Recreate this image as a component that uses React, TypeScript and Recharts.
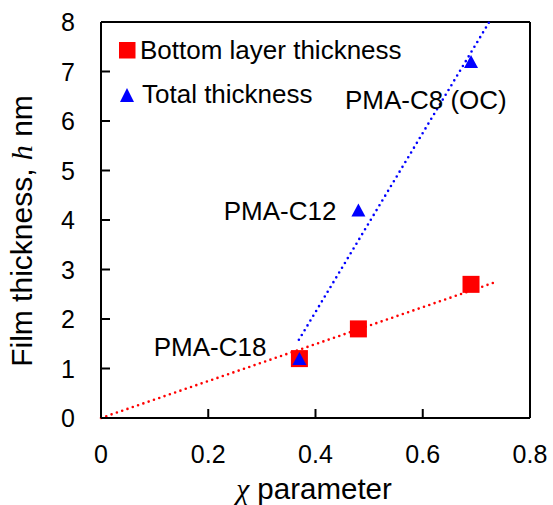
import React from 'react';
import { ScatterChart, Scatter, XAxis, YAxis, ReferenceLine, Legend } from 'recharts';

const chiValues = [0.37, 0.48, 0.69];
const bottomLayer = [1.2, 1.8, 2.7];
const totalThickness = [1.2, 4.2, 7.2];
const sampleNames = ['PMA-C18', 'PMA-C12', 'PMA-C8 (OC)'];
const bottomTrend = [{ x: 0, y: 0 }, { x: 0.737, y: 2.75 }];
const totalTrend = [{ x: 0.369, y: 1.58 }, { x: 0.724, y: 8 }];
const xTicks = [0, 0.2, 0.4, 0.6, 0.8];
const yTicks = [0, 1, 2, 3, 4, 5, 6, 7, 8];

const bottomData = chiValues.map((x, i) => ({ x, y: bottomLayer[i] }));
const totalData = chiValues.map((x, i) => ({ x, y: totalThickness[i], name: sampleNames[i] }));

const FONT = '"Liberation Sans", Arial, sans-serif';
const SERIF = '"Liberation Serif", "Times New Roman", serif';
const RED = '#FF0000';
const BLUE = '#0000FF';

const labelLayout = [
  { dx: -33, dy: -3, anchor: 'end' },
  { dx: -22, dy: 10, anchor: 'end' },
  { dx: -126, dy: 47, anchor: 'start' },
];

const YTick = (props: any) => {
  const { x, y, payload } = props;
  return (
    <g>
      <line x1={x} x2={x + 9} y1={y} y2={y} stroke="#000" strokeWidth={2} />
      <text x={x - 26} y={y + 9} textAnchor="end" fontFamily={FONT} fontSize={25} fill="#000">
        {String(payload.value)}
      </text>
    </g>
  );
};

const XTick = (props: any) => {
  const { x, y, payload } = props;
  return (
    <g>
      <line x1={x} x2={x} y1={y} y2={y - 9} stroke="#000" strokeWidth={2} />
      <text x={x} y={y + 45} textAnchor="middle" fontFamily={FONT} fontSize={25} fill="#000">
        {String(payload.value)}
      </text>
    </g>
  );
};

const Square = (props: any) => {
  const { cx, cy } = props;
  if (cx == null || cy == null) return null;
  return <rect x={cx - 8.5} y={cy - 8.5} width={17} height={17} fill={RED} />;
};

const Triangle = (props: any) => {
  const { cx, cy, index, payload } = props;
  if (cx == null || cy == null) return null;
  const lay = labelLayout[index] || labelLayout[0];
  return (
    <g>
      <polygon points={`${cx},${cy - 6.5} ${cx - 7},${cy + 6.5} ${cx + 7},${cy + 6.5}`} fill={BLUE} />
      <text x={cx + lay.dx} y={cy + lay.dy} textAnchor={lay.anchor as any} fontFamily={FONT} fontSize={26} fill="#000">
        {payload?.name}
      </text>
    </g>
  );
};

const LegendContent = () => (
  <svg width={300} height={90} style={{ overflow: 'visible' }}>
    <rect x={9} y={12} width={16.5} height={16.5} fill={RED} />
    <text x={30} y={29} fontFamily={FONT} fontSize={26} fill="#000">Bottom layer thickness</text>
    <polygon points="17,58 10,72 24,72" fill={BLUE} />
    <text x={32} y={73} fontFamily={FONT} fontSize={26} fill="#000">Total thickness</text>
  </svg>
);

export default function App() {
  return (
    <div style={{ position: 'absolute', left: 0, top: 0, background: '#fff' }}>
      <ScatterChart width={553} height={505} margin={{ top: 22, right: 23, bottom: 0, left: 0 }}>
        <XAxis
          type="number"
          dataKey="x"
          domain={[0, 0.8]}
          ticks={xTicks}
          interval={0}
          tickSize={0}
          tickMargin={0}
          tickLine={false}
          tick={<XTick />}
          height={87}
          axisLine={{ stroke: '#000', strokeWidth: 2 }}
          allowDataOverflow
          label={{
            content: () => (
              <text x={314} y={499} textAnchor="middle" fontFamily={FONT} fontSize={29.5} fill="#000">
                <tspan fontFamily={SERIF} fontStyle="italic">χ</tspan>
                <tspan> parameter</tspan>
              </text>
            ),
          }}
        />
        <YAxis
          type="number"
          dataKey="y"
          domain={[0, 8]}
          ticks={yTicks}
          interval={0}
          tickSize={0}
          tickMargin={0}
          tickLine={false}
          tick={<YTick />}
          width={101}
          axisLine={{ stroke: '#000', strokeWidth: 2 }}
          allowDataOverflow
          label={{
            content: () => (
              <text x={32} y={231} transform="rotate(-90 32 231)" textAnchor="middle" fontFamily={FONT} fontSize={30} fill="#000">
                <tspan>Film thickness, </tspan>
                <tspan fontFamily={SERIF} fontStyle="italic">h</tspan>
                <tspan> nm</tspan>
              </text>
            ),
          }}
        />
        <ReferenceLine y={8} stroke="#000" strokeWidth={2} />
        <ReferenceLine x={0.8} stroke="#000" strokeWidth={2} />
        <ReferenceLine
          segment={bottomTrend}
          stroke={RED}
          strokeWidth={2.6}
          strokeDasharray="0 5.6"
          strokeLinecap="round"
        />
        <ReferenceLine
          segment={totalTrend}
          stroke={BLUE}
          strokeWidth={2.6}
          strokeDasharray="0 5.6"
          strokeLinecap="round"
        />
        <Scatter name="Bottom layer thickness" data={bottomData} shape={<Square />} isAnimationActive={false} />
        <Scatter name="Total thickness" data={totalData} shape={<Triangle />} isAnimationActive={false} />
        <Legend
          layout="vertical"
          align="center"
          verticalAlign="middle"
          content={<LegendContent />}
          wrapperStyle={{ left: 110, top: 30, width: 300, height: 90 }}
        />
      </ScatterChart>
    </div>
  );
}
